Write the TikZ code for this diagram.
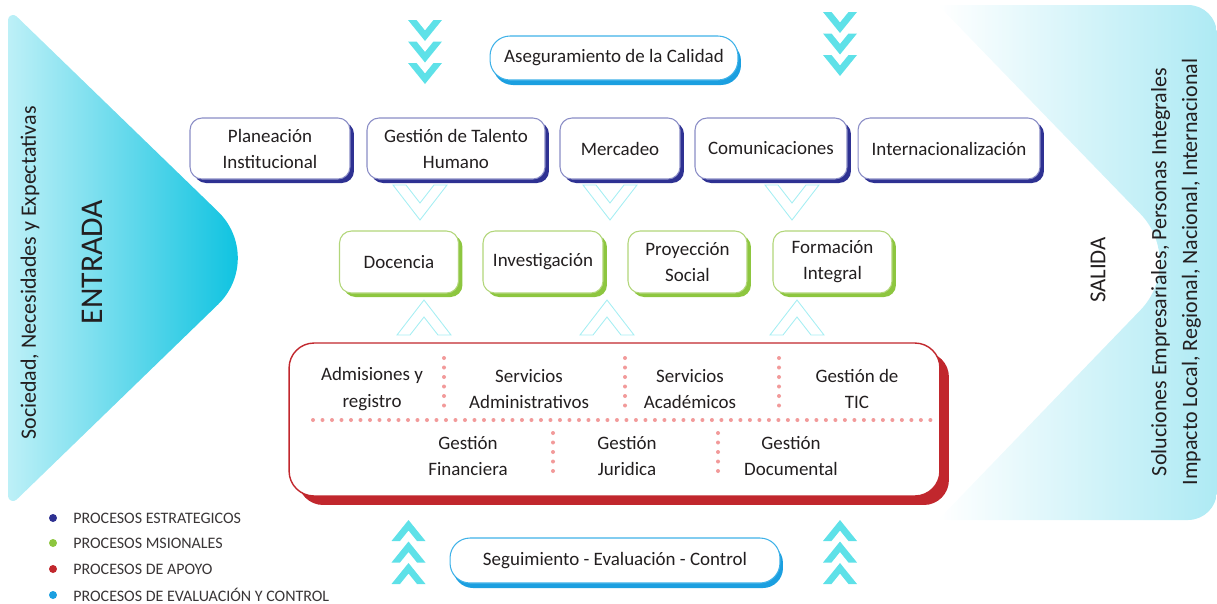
\documentclass[tikz,border=0pt]{standalone}
\usepackage{fontspec}
\setmainfont{Carlito}
\usetikzlibrary{shadows}

\definecolor{azulest}{HTML}{2E3192}
\definecolor{lilaest}{HTML}{8A8DC6}
\definecolor{verdemis}{HTML}{8DC63F}
\definecolor{verdeclaro}{HTML}{B2D67A}
\definecolor{rojoapoyo}{HTML}{C1272D}
\definecolor{azulctrl}{HTML}{1B9FE0}
\definecolor{celestectrl}{HTML}{3FB2E8}
\definecolor{turquesa}{HTML}{5EE1E8}
\definecolor{turquesaclaro}{HTML}{A6EEF3}
\definecolor{rosapunto}{HTML}{F29A9A}
\definecolor{texto}{HTML}{231F20}
\definecolor{entradaclaro}{HTML}{BDF0F7}
\definecolor{entradafuerte}{HTML}{0BC2E0}
\definecolor{salidafuerte}{HTML}{AEEAF4}

\begin{document}
\begin{tikzpicture}[x=0.02cm, y=-0.02cm,
    caja/.style={rounded corners=0.24cm, fill=white, line width=0.6pt, align=center,
        inner sep=0pt, text=texto, font=\fontsize{10.8}{14.8}\selectfont},
    estrat/.style={caja, draw=lilaest, minimum height=1.22cm,
        drop shadow={shadow xshift=0.08cm, shadow yshift=-0.08cm, fill=azulest, opacity=1}},
    mision/.style={caja, draw=verdeclaro, minimum width=2.38cm, minimum height=1.24cm,
        drop shadow={shadow xshift=0.08cm, shadow yshift=-0.08cm, fill=verdemis, opacity=1}},
    control/.style={caja, rounded corners=0.4cm, draw=celestectrl,
        drop shadow={shadow xshift=0.06cm, shadow yshift=-0.1cm, fill=azulctrl, opacity=1}},
    apoyobox/.style={rounded corners=0.5cm, fill=white, draw=rojoapoyo, line width=0.8pt,
        drop shadow={shadow xshift=0.18cm, shadow yshift=-0.18cm, fill=rojoapoyo, opacity=1}},
    apoyotxt/.style={align=center, inner sep=0pt, text=texto, font=\fontsize{10.8}{15}\selectfont},
    lado/.style={rotate=90, align=center, inner sep=0pt, text=texto, font=\fontsize{12.5}{17.6}\selectfont},
    leyenda/.style={anchor=west, inner sep=0pt, text=texto!90, font=\fontsize{9.1}{11}\selectfont},
    puntos/.style={draw=rosapunto, line width=0.08cm, line cap=round, dash pattern=on 0pt off 0.19cm},
    bajo/.pic={\fill[turquesa] (-17,0) -- (-8.5,0) -- (0,10.5) -- (8.5,0) -- (17,0) -- (0,21) -- cycle;},
    subir/.pic={\fill[turquesa] (-17,0) -- (-8.5,0) -- (0,-10.5) -- (8.5,0) -- (17,0) -- (0,-21) -- cycle;},
    vbajo/.pic={\draw[turquesaclaro, line width=0.5pt] (-27,0) -- (-14,0) -- (0,18) -- (14,0) -- (27,0) -- (0,35) -- cycle;},
    vsubir/.pic={\draw[turquesaclaro, line width=0.5pt] (-27,0) -- (-14,0) -- (0,-18) -- (14,0) -- (27,0) -- (0,-35) -- cycle;}
]
    \useasboundingbox (0,0) rectangle (1217,603);

    % entrada y salida
    \shade[left color=entradaclaro, right color=entradafuerte]
        (8,20) .. controls (8,15.5) and (13.4,13.3) .. (16.6,16.4) -- (218,211.5)
        .. controls (244.4,237.1) and (244.4,278.9) .. (218,304.5)
        -- (16.6,499.6) .. controls (13.4,502.7) and (8,500.5) .. (8,496) -- cycle;
    \shade[left color=white, right color=salidafuerte]
        (938,5) -- (1188,5) .. controls (1204,5) and (1217,18) .. (1217,34) -- (1217,491)
        .. controls (1217,507) and (1204,520) .. (1188,520) -- (938,520) -- (1140.5,310)
        .. controls (1166.1,283.6) and (1166.1,240.4) .. (1140.5,214) -- cycle;

    \node[lado] (sociedad) at (30,273) {Sociedad, Necesidades y Expectativas};
    \node[lado, font=\fontsize{18}{20}\selectfont] (entrada) at (92,262) {ENTRADA};
    \node[lado, font=\fontsize{13}{15}\selectfont] (salida) at (1098,270) {SALIDA};
    \node[lado] (impacto) at (1176,272) {Soluciones Empresariales, Personas Integrales\\Impacto Local, Regional, Nacional, Internacional};

    % calidad
    \foreach \k in {0,1,2} {
        \pic at (425,20+21.5*\k) {bajo};
        \pic at (840,12+21.5*\k) {bajo};
    }
    \node[control, minimum width=4.96cm, minimum height=0.88cm] (calidad) at (614,58) {Aseguramiento de la Calidad};

    % estrategicos
    \node[estrat, minimum width=3.2cm] (planeacion) at (270,148.5) {Planeación\\Institucional};
    \node[estrat, minimum width=3.56cm] (talento) at (456,148.5) {Gestión de Talento\\Humano};
    \node[estrat, minimum width=2.4cm] (mercadeo) at (620,148.5) {Mercadeo};
    \node[estrat, minimum width=3.04cm] (comunicaciones) at (771,148.5) {Comunicaciones};
    \node[estrat, minimum width=3.64cm] (internacional) at (949,148.5) {Internacionalización};

    \pic at (420,185) {vbajo};
    \pic at (610,185) {vbajo};
    \pic at (792,185) {vbajo};

    % misionales
    \node[mision] (docencia) at (399,262) {Docencia};
    \node[mision, minimum width=2.4cm] (investigacion) at (543,262) {Investigación};
    \node[mision] (proyeccion) at (687.5,262) {Proyección\\Social};
    \node[mision] (formacion) at (832.5,262) {Formación\\Integral};

    \pic at (424,335) {vsubir};
    \pic at (607,335) {vsubir};
    \pic at (797,335) {vsubir};

    % apoyo
    \node[apoyobox, minimum width=13.02cm, minimum height=3.06cm] (apoyo) at (614.5,419.5) {};
    \node[apoyotxt] (admisiones) at (372,389) {Admisiones y\\registro};
    \node[apoyotxt] (servadmin) at (529,389) {Servicios\\Administrativos};
    \node[apoyotxt] (servacad) at (690,389) {Servicios\\Académicos};
    \node[apoyotxt] (tic) at (857,389) {Gestión de\\TIC};
    \node[apoyotxt] (financiera) at (468,456) {Gestión\\Financiera};
    \node[apoyotxt] (juridica) at (627,456) {Gestión\\Juridica};
    \node[apoyotxt] (documental) at (791,456) {Gestión\\Documental};
    \draw[puntos] (444,358) -- (444,407);
    \draw[puntos] (625,358) -- (625,407);
    \draw[puntos] (779,358) -- (779,407);
    \draw[puntos] (313,420) -- (931,420);
    \draw[puntos] (553,433) -- (553,477);
    \draw[puntos] (718,433) -- (718,477);

    % control
    \foreach \k in {0,1,2} {
        \pic at (408.5,541+21.5*\k) {subir};
        \pic at (840,541+21.5*\k) {subir};
    }
    \node[control, minimum width=6.6cm, minimum height=0.9cm] (seguimiento) at (615,560.5) {Seguimiento - Evaluación - Control};

    % leyenda
    \foreach \col/\yy/\txt in {azulest/518/PROCESOS ESTRATEGICOS, verdemis/543/PROCESOS MSIONALES,
        rojoapoyo/569/PROCESOS DE APOYO, azulctrl/595/PROCESOS DE EVALUACIÓN Y CONTROL} {
        \fill[\col] (53,\yy) circle (0.08cm);
        \node[leyenda] (ley\yy) at (73,\yy) {\txt};
    }
\end{tikzpicture}
\end{document}
